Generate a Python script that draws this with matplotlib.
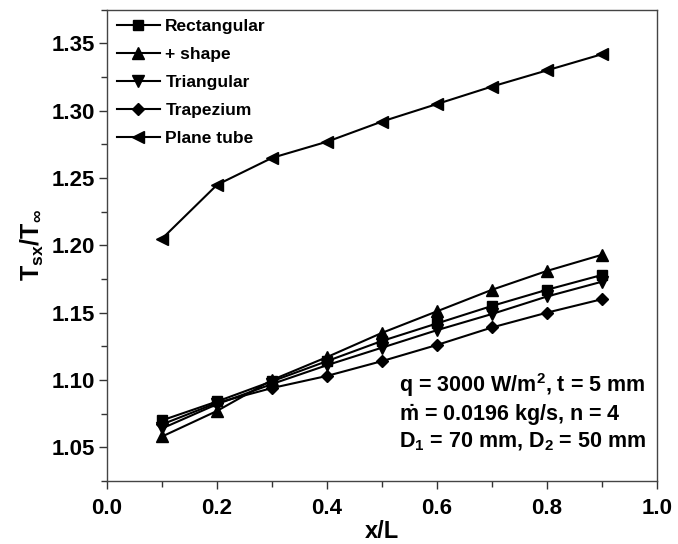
import matplotlib
matplotlib.use('Agg')
from matplotlib import pyplot as plt
from matplotlib.ticker import MultipleLocator

x = [0.1, 0.2, 0.3, 0.4, 0.5, 0.6, 0.7, 0.8, 0.9]
rectangular = [1.070, 1.084, 1.099, 1.114, 1.129, 1.142, 1.155, 1.167, 1.178]
plus_shape = [1.058, 1.077, 1.100, 1.117, 1.135, 1.151, 1.167, 1.181, 1.193]
triangular = [1.064, 1.082, 1.097, 1.111, 1.124, 1.137, 1.149, 1.162, 1.173]
trapezium = [1.067, 1.083, 1.094, 1.103, 1.114, 1.126, 1.139, 1.150, 1.160]
plane_tube = [1.205, 1.245, 1.265, 1.277, 1.292, 1.305, 1.318, 1.330, 1.342]

xticks = [0.0, 0.2, 0.4, 0.6, 0.8, 1.0]
yticks = [1.05, 1.10, 1.15, 1.20, 1.25, 1.30, 1.35]

plt.rcParams['font.family'] = ['Liberation Sans', 'DejaVu Sans']
plt.rcParams['font.weight'] = 'bold'
plt.rcParams['mathtext.fontset'] = 'custom'
plt.rcParams['mathtext.rm'] = 'Liberation Sans:bold'
plt.rcParams['mathtext.it'] = 'Liberation Sans:bold'
plt.rcParams['mathtext.bf'] = 'Liberation Sans:bold'

fig = plt.figure(figsize=(6.78, 5.44), dpi=100)
ax = fig.add_axes([0.158, 0.116, 0.811, 0.866])

ax.plot(x, rectangular, marker='s', markersize=6.5, color='black', linewidth=1.5, label='Rectangular')
ax.plot(x, plus_shape, marker='^', markersize=8, color='black', linewidth=1.5, label='+ shape')
ax.plot(x, triangular, marker='v', markersize=8, color='black', linewidth=1.5, label='Triangular')
ax.plot(x, trapezium, marker='D', markersize=6, color='black', linewidth=1.5, label='Trapezium')
ax.plot(x, plane_tube, marker='<', markersize=8, color='black', linewidth=1.5, label='Plane tube')

# Formatowanie osi
ax.set_xlim(0.0, 1.0)
ax.set_ylim(1.025, 1.375)
ax.set_xticks(xticks)
ax.set_xticklabels(['%.1f' % v for v in xticks], fontsize=16, fontweight='bold')
ax.set_yticks(yticks)
ax.set_yticklabels(['%.2f' % v for v in yticks], fontsize=16, fontweight='bold')
ax.xaxis.set_minor_locator(MultipleLocator(0.1))
ax.yaxis.set_minor_locator(MultipleLocator(0.025))
ax.tick_params(axis='both', which='major', direction='out', length=6, width=1, color='#333333')
ax.tick_params(axis='both', which='minor', direction='out', length=4, width=1, color='#333333')
ax.tick_params(axis='x', which='major', pad=6)
ax.tick_params(axis='y', which='major', pad=3)
for sp in ax.spines.values():
    sp.set_color('#444444')
    sp.set_linewidth(1.0)

ax.set_xlabel('x/L', fontsize=17, fontweight='bold', labelpad=1)
ax.set_ylabel(r'T$_{sx}$/T$_{\infty}$', fontsize=18, fontweight='bold', labelpad=4)

ax.legend(loc='upper left', bbox_to_anchor=(0.0, 1.0), frameon=False, handlelength=2.5,
          handletextpad=0.3, labelspacing=0.73, borderaxespad=0.1, borderpad=0.45,
          prop={'weight': 'bold', 'size': 12.5})

ax.text(0.53, 1.096, r'q = 3000 W/m$^{2}$, t = 5 mm', fontsize=15.5, fontweight='bold', va='center')
ax.text(0.53, 1.074, r'$\dot{m}$ = 0.0196 kg/s, n = 4', fontsize=15.5, fontweight='bold', va='center')
ax.text(0.53, 1.054, r'D$_{1}$ = 70 mm, D$_{2}$ = 50 mm', fontsize=15.5, fontweight='bold', va='center')

fig.savefig('out.png', dpi=100)
